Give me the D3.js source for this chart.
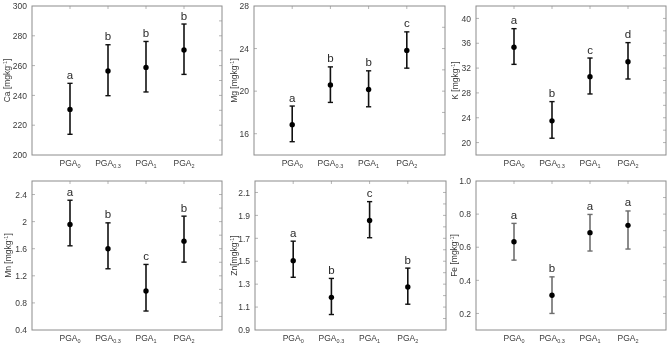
<!DOCTYPE html>
<html>
<head>
<meta charset="utf-8">
<script src="https://cdn.jsdelivr.net/npm/d3@7"></script>
<style>
  body { margin: 0; background: #ffffff; }
  svg { display: block; font-family: "Liberation Sans", Arial, sans-serif; filter: grayscale(100%); }
</style>
</head>
<body>
<div id="chart"></div>
<script>
// treatment groups (subscripts of PGA)
const groups = ['0', '0.3', '1', '2'];

// Ca
const caMean = [230.6, 256.4, 258.8, 270.5];
const caHigh = [248.1, 274.0, 276.2, 287.9];
const caLow = [213.9, 239.8, 242.3, 254.1];
const caLetters = ['a', 'b', 'b', 'b'];
const caTicks = [200, 220, 240, 260, 280, 300];

// Mg
const mgMean = [16.85, 20.58, 20.15, 23.83];
const mgHigh = [18.6, 22.28, 21.91, 25.57];
const mgLow = [15.25, 18.94, 18.53, 22.16];
const mgLetters = ['a', 'b', 'b', 'c'];
const mgTicks = [16, 20, 24, 28];

// K
const kMean = [35.35, 23.5, 30.62, 33.03];
const kHigh = [38.35, 26.6, 33.62, 36.1];
const kLow = [32.6, 20.7, 27.83, 30.24];
const kLetters = ['a', 'b', 'c', 'd'];
const kTicks = [20, 24, 28, 32, 36, 40];

// Mn
const mnMean = [1.958, 1.6, 0.975, 1.712];
const mnHigh = [2.316, 1.982, 1.368, 2.081];
const mnLow = [1.643, 1.304, 0.68, 1.402];
const mnLetters = ['a', 'b', 'c', 'b'];
const mnTicks = [0.4, 0.8, 1.2, 1.6, 2.0, 2.4];

// Zn
const znMean = [1.505, 1.185, 1.855, 1.275];
const znHigh = [1.675, 1.35, 2.02, 1.44];
const znLow = [1.36, 1.035, 1.705, 1.125];
const znLetters = ['a', 'b', 'c', 'b'];
const znTicks = [0.9, 1.1, 1.3, 1.5, 1.7, 1.9, 2.1];

// Fe
const feMean = [0.633, 0.31, 0.688, 0.732];
const feHigh = [0.744, 0.421, 0.798, 0.819];
const feLow = [0.522, 0.2, 0.577, 0.589];
const feLetters = ['a', 'b', 'a', 'a'];
const feTicks = [0.2, 0.4, 0.6, 0.8, 1.0];

const width = 668;
const height = 346;

const panels = [
  { el: 'Ca', mean: caMean, hi: caHigh, lo: caLow, letters: caLetters, ticks: caTicks,
    domain: [200, 300], fmt: d3.format('d'), left: 32, top: 6, right: 222, titleX: 7, barColor: '#111' },
  { el: 'Mg', mean: mgMean, hi: mgHigh, lo: mgLow, letters: mgLetters, ticks: mgTicks,
    domain: [14, 28], fmt: d3.format('d'), left: 254, top: 6, right: 445, titleX: 234, barColor: '#111' },
  { el: 'K', mean: kMean, hi: kHigh, lo: kLow, letters: kLetters, ticks: kTicks,
    domain: [18, 42], fmt: d3.format('d'), left: 476, top: 6, right: 666, titleX: 455, barColor: '#111' },
  { el: 'Mn', mean: mnMean, hi: mnHigh, lo: mnLow, letters: mnLetters, ticks: mnTicks,
    domain: [0.4, 2.6], fmt: (d) => (Math.abs(d - 2) < 1e-9 ? '2' : d.toFixed(1)), left: 32, top: 181, right: 222, titleX: 8, barColor: '#111' },
  { el: 'Zn', mean: znMean, hi: znHigh, lo: znLow, letters: znLetters, ticks: znTicks,
    domain: [0.9, 2.2], fmt: (d) => d.toFixed(1), left: 255, top: 181, right: 446, titleX: 234, barColor: '#111', noSpace: true },
  { el: 'Fe', mean: feMean, hi: feHigh, lo: feLow, letters: feLetters, ticks: feTicks,
    domain: [0.1, 1.0], fmt: (d) => d.toFixed(1), left: 476, top: 181, right: 666, titleX: 454, barColor: '#6e6e6e' }
];

const plotH = 149;
const boxColor = '#8c8c8c';
const textColor = '#3a3a3a';

const svg = d3.select('#chart')
  .append('svg')
  .attr('width', width)
  .attr('height', height)
  .attr('viewBox', `0 0 ${width} ${height}`);

panels.forEach((p) => {
  const plotW = p.right - p.left;
  const g = svg.append('g').attr('transform', `translate(${p.left},${p.top})`);

  const x = d3.scaleLinear().domain([0, groups.length + 1]).range([0, plotW]);
  const y = d3.scaleLinear().domain(p.domain).range([plotH, 0]);

  // tick labels on the left
  const yAxis = g.append('g')
    .call(d3.axisLeft(y).tickValues(p.ticks).tickFormat(p.fmt).tickSize(0).tickPadding(5));
  yAxis.select('.domain').remove();
  yAxis.selectAll('text').attr('fill', textColor).attr('font-size', 8.5)
    .attr('font-family', '"Liberation Sans", Arial, sans-serif');

  // faint inward ticks: left and right at majors, right also at halves
  const step = p.ticks[1] - p.ticks[0];
  const minor = d3.range(p.domain[0], p.domain[1] + step / 4, step / 2)
    .filter((v) => v > p.domain[0] + 1e-9 && v < p.domain[1] - 1e-9);
  g.selectAll('line.rtick').data(minor).join('line')
    .attr('class', 'rtick')
    .attr('x1', plotW).attr('x2', plotW - 3)
    .attr('y1', (v) => y(v)).attr('y2', (v) => y(v))
    .attr('stroke', '#b5b5b5').attr('stroke-width', 1);
  g.selectAll('line.ltick').data(p.ticks.filter((v) => v > p.domain[0] && v < p.domain[1])).join('line')
    .attr('class', 'ltick')
    .attr('x1', 0).attr('x2', 3)
    .attr('y1', (v) => y(v)).attr('y2', (v) => y(v))
    .attr('stroke', '#b5b5b5').attr('stroke-width', 1);
  g.selectAll('line.ttick').data(groups).join('line')
    .attr('class', 'ttick')
    .attr('x1', (d, i) => x(i + 1)).attr('x2', (d, i) => x(i + 1))
    .attr('y1', 0).attr('y2', 3)
    .attr('stroke', '#b5b5b5').attr('stroke-width', 1);

  // frame
  g.append('rect')
    .attr('x', 0).attr('y', 0)
    .attr('width', plotW).attr('height', plotH)
    .attr('fill', 'none')
    .attr('stroke', boxColor)
    .attr('stroke-width', 1);

  // category labels
  const xl = g.selectAll('text.cat').data(groups).join('text')
    .attr('class', 'cat')
    .attr('x', (d, i) => x(i + 1))
    .attr('y', plotH + 11)
    .attr('text-anchor', 'middle')
    .attr('fill', textColor)
    .attr('font-size', 8.5);
  xl.append('tspan').text('PGA');
  xl.append('tspan').attr('font-size', 5.5).attr('dy', 2).text((d) => d);

  // error bars
  const capW = 2.6;
  const bars = g.selectAll('g.bar').data(groups).join('g').attr('class', 'bar');
  bars.append('line')
    .attr('x1', (d, i) => x(i + 1)).attr('x2', (d, i) => x(i + 1))
    .attr('y1', (d, i) => y(p.hi[i])).attr('y2', (d, i) => y(p.lo[i]))
    .attr('stroke', p.barColor).attr('stroke-width', 1.6);
  bars.append('line')
    .attr('x1', (d, i) => x(i + 1) - capW).attr('x2', (d, i) => x(i + 1) + capW)
    .attr('y1', (d, i) => y(p.hi[i])).attr('y2', (d, i) => y(p.hi[i]))
    .attr('stroke', p.barColor).attr('stroke-width', 1.4);
  bars.append('line')
    .attr('x1', (d, i) => x(i + 1) - capW).attr('x2', (d, i) => x(i + 1) + capW)
    .attr('y1', (d, i) => y(p.lo[i])).attr('y2', (d, i) => y(p.lo[i]))
    .attr('stroke', p.barColor).attr('stroke-width', 1.4);
  bars.append('circle')
    .attr('cx', (d, i) => x(i + 1))
    .attr('cy', (d, i) => y(p.mean[i]))
    .attr('r', 2.7)
    .attr('fill', '#000');
  bars.append('text')
    .attr('x', (d, i) => x(i + 1))
    .attr('y', (d, i) => y(p.hi[i]) - 4.5)
    .attr('text-anchor', 'middle')
    .attr('fill', '#2a2a2a')
    .attr('font-size', 11.5)
    .text((d, i) => p.letters[i]);

  // y title
  const ty = p.top + plotH / 2;
  const title = svg.append('text')
    .attr('transform', `translate(${p.titleX},${ty}) rotate(-90)`)
    .attr('text-anchor', 'middle')
    .attr('dy', '0.35em')
    .attr('fill', textColor)
    .attr('font-size', 8.5);
  title.append('tspan').text(p.el + (p.noSpace ? '[mgkg' : ' [mgkg'));
  title.append('tspan').attr('font-size', 5.5).attr('dy', -3).text('-1');
  title.append('tspan').attr('dy', 3).text(']');
});
</script>
</body>
</html>
